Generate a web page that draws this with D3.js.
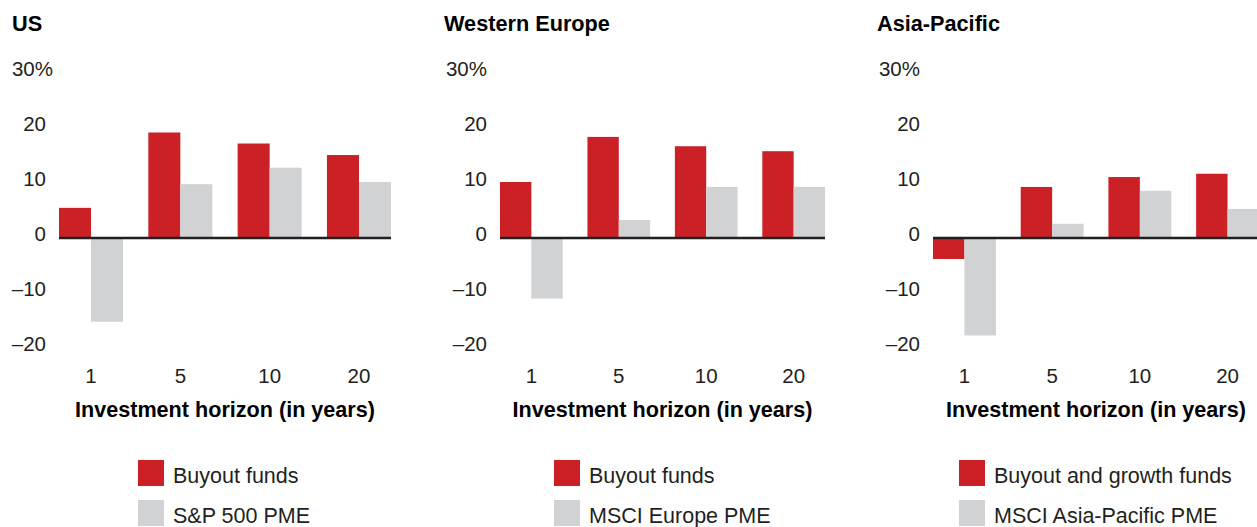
<!DOCTYPE html>
<html>
<head>
<meta charset="utf-8">
<script src="https://cdn.jsdelivr.net/npm/d3@7"></script>
<style>
  body { margin: 0; background: #fff; }
  svg { display: block; font-family: "Liberation Sans", Arial, Helvetica, sans-serif; }
  .title { font-weight: bold; font-size: 21.7px; fill: #000; }
  .axis-title { font-weight: bold; font-size: 21.6px; fill: #000; }
  .legend-text { font-size: 21.5px; fill: #231f20; }
</style>
</head>
<body>
<div id="chart"></div>
<script>
// horizons on the x axis
const horizons = ["1", "5", "10", "20"];
const yTicks = [-20, -10, 0, 10, 20, 30];

// US
const usBuyout = [5.3, 19.0, 17.0, 14.9];
const usPme = [-15.4, 9.6, 12.6, 10.0];

// Western Europe
const weBuyout = [10.0, 18.2, 16.5, 15.6];
const wePme = [-11.2, 3.1, 9.1, 9.1];

// Asia-Pacific
const apBuyout = [-4.0, 9.1, 10.9, 11.5];
const apPme = [-17.9, 2.4, 8.4, 5.1];

const panels = [
  { title: "US", buyout: usBuyout, pme: usPme, left: 59, right: 391, titleX: 12, topShift: 7,
    legend: ["Buyout funds", "S&P 500 PME"], legendX: 138 },
  { title: "Western Europe", buyout: weBuyout, pme: wePme, left: 500, right: 825, titleX: 444, topShift: 0,
    legend: ["Buyout funds", "MSCI Europe PME"], legendX: 554 },
  { title: "Asia-Pacific", buyout: apBuyout, pme: apPme, left: 933, right: 1259, titleX: 877, topShift: 0,
    legend: ["Buyout and growth funds", "MSCI Asia-Pacific PME"], legendX: 959 }
];

const width = 1257, height = 527;
const red = "#cc2027", grey = "#d1d2d4", ink = "#231f20";

const svg = d3.select("#chart")
  .append("svg")
  .attr("width", width)
  .attr("height", height);

const y = d3.scaleLinear()
  .domain([-20, 30])
  .range([347, 72]);

panels.forEach(function (p) {
  const g = svg.append("g");

  const x0 = d3.scaleBand()
    .domain(horizons)
    .range([p.left, p.right])
    .paddingInner(0.283)
    .paddingOuter(0);

  const x1 = d3.scaleBand()
    .domain(["buyout", "pme"])
    .range([0, x0.bandwidth()]);

  // title
  g.append("text")
    .attr("class", "title")
    .attr("x", p.titleX)
    .attr("y", 31)
    .text(p.title);

  // y axis labels
  const yAxis = g.append("g")
    .attr("transform", `translate(${p.left - 13},0)`)
    .call(d3.axisLeft(y)
      .tickValues(yTicks)
      .tickSize(0)
      .tickPadding(0)
      .tickFormat(d => d === 30 ? "30%" : d < 0 ? "\u2013" + Math.abs(d) : d));
  yAxis.select(".domain").remove();
  yAxis.selectAll("text")
    .attr("font-size", 20.5)
    .attr("font-family", "Liberation Sans, Arial, sans-serif")
    .attr("fill", ink)
    .attr("dy", "0.15em")
    .attr("x", d => d === 30 ? p.topShift : 0);

  // bars
  const rows = horizons.map((h, i) => ({ h: h, buyout: p.buyout[i], pme: p.pme[i] }));
  const groups = g.selectAll(".grp")
    .data(rows)
    .enter()
    .append("g")
    .attr("transform", d => `translate(${x0(d.h)},0)`);

  groups.selectAll("rect")
    .data(d => [{ k: "buyout", v: d.buyout }, { k: "pme", v: d.pme }])
    .enter()
    .append("rect")
    .attr("x", d => x1(d.k))
    .attr("width", x1.bandwidth())
    .attr("y", d => y(Math.max(0, d.v)))
    .attr("height", d => Math.abs(y(d.v) - y(0)))
    .attr("fill", d => d.k === "buyout" ? red : grey);

  // zero line
  g.append("line")
    .attr("x1", p.left)
    .attr("x2", p.right)
    .attr("y1", y(0) + 1)
    .attr("y2", y(0) + 1)
    .attr("stroke", ink)
    .attr("stroke-width", 2.5);

  // x axis labels
  const xAxis = g.append("g")
    .attr("transform", "translate(0,360)")
    .call(d3.axisBottom(x0).tickSize(0).tickPadding(8));
  xAxis.select(".domain").remove();
  xAxis.selectAll("text")
    .attr("font-size", 20.5)
    .attr("font-family", "Liberation Sans, Arial, sans-serif")
    .attr("fill", ink);

  g.append("text")
    .attr("class", "axis-title")
    .attr("text-anchor", "middle")
    .attr("x", (p.left + p.right) / 2)
    .attr("y", 417)
    .text("Investment horizon (in years)");

  // legend
  const leg = g.selectAll(".leg")
    .data(p.legend)
    .enter()
    .append("g")
    .attr("transform", (d, i) => `translate(${p.legendX},${460 + i * 40})`);
  leg.append("rect")
    .attr("width", 26)
    .attr("height", 26)
    .attr("fill", (d, i) => i === 0 ? red : grey);
  leg.append("text")
    .attr("class", "legend-text")
    .attr("x", 35)
    .attr("y", 23)
    .text(d => d);
});
</script>
</body>
</html>
